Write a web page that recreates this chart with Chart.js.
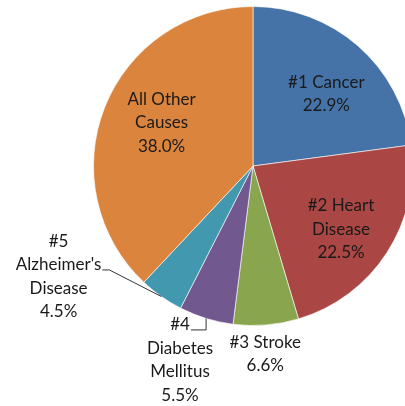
<!DOCTYPE html>
<html>
<head>
<meta charset="utf-8">
<script src="https://cdn.jsdelivr.net/npm/chart.js@4"></script>
<style>
    html, body { margin: 0; padding: 0; background: #fff; overflow: hidden; }
    #wrap { position: absolute; left: 0; top: 0; width: 506px; height: 406px; }
</style>
</head>
<body>
<div id="wrap"><canvas id="pieChart"></canvas></div>
<script>
// Leading causes of death, share of all deaths
const causeLabels = [
    ['#1 Cancer'],
    ['#2 Heart', 'Disease'],
    ['#3 Stroke'],
    ['#4', 'Diabetes', 'Mellitus'],
    ['#5', "Alzheimer's", 'Disease'],
    ['All Other', 'Causes']
];
const causeShares = [22.9, 22.5, 6.6, 5.5, 4.5, 38.0];
const sliceColors = ['#4572A7', '#AA4643', '#89A54E', '#71588F', '#4198AF', '#DB843D'];

// label placement: radius fraction along the slice middle, then a small nudge
const labelPlace = [
    { k: 0.65, dx: 5, dy: 6 },
    { k: 0.65, dx: 1, dy: 7 },
    { k: 1.17, dx: -3, dy: 2 },
    { k: 1.30, dx: -12, dy: -4 },
    { k: 1.40, dx: -66, dy: -72 },
    { k: 0.65, dx: 5, dy: -5 }
];
// leader lines for the outside labels: which text line, horizontal run (0 = run to the slice edge x)
const leaders = { 3: { line: 0, run: 0 }, 4: { line: 1, run: 7 } };

const FONT = '17px Lato, "Open Sans", sans-serif';
const LINE_H = 23.5;

const sliceLabels = {
    id: 'sliceLabels',
    afterDatasetsDraw(chart) {
        const ctx = chart.ctx;
        const arcs = chart.getDatasetMeta(0).data;
        ctx.save();
        ctx.font = FONT;
        ctx.fillStyle = '#1a1a1a';
        ctx.textAlign = 'center';
        ctx.textBaseline = 'middle';
        arcs.forEach((arc, i) => {
            const mid = (arc.startAngle + arc.endAngle) / 2;
            const p = labelPlace[i];
            const cx = arc.x + Math.cos(mid) * arc.outerRadius * p.k + p.dx;
            const cy = arc.y + Math.sin(mid) * arc.outerRadius * p.k + p.dy;
            const lines = causeLabels[i].concat([causeShares[i].toFixed(1) + '%']);
            const top = cy - (lines.length - 1) * LINE_H / 2;
            lines.forEach((t, j) => ctx.fillText(t, cx, top + j * LINE_H));

            const ld = leaders[i];
            if (ld) {
                const txt = lines[ld.line];
                const x0 = cx + ctx.measureText(txt).width / 2 + 1;
                const y0 = top + ld.line * LINE_H + 5;
                const ex = arc.x + Math.cos(mid) * arc.outerRadius;
                const ey = arc.y + Math.sin(mid) * arc.outerRadius;
                ctx.beginPath();
                ctx.strokeStyle = '#333';
                ctx.lineWidth = 1;
                ctx.moveTo(x0, y0);
                ctx.lineTo(ld.run ? x0 + ld.run : ex, y0);
                ctx.lineTo(ex, ey);
                ctx.stroke();
            }
        });
        ctx.restore();
    }
};

new Chart(document.getElementById('pieChart'), {
    type: 'pie',
    data: {
        labels: causeLabels.map(l => l.join(' ')),
        datasets: [{
            data: causeShares,
            backgroundColor: sliceColors,
            borderColor: 'rgba(255,255,255,0.6)',
            borderWidth: 1
        }]
    },
    options: {
        responsive: true,
        maintainAspectRatio: false,
        animation: false,
        layout: { padding: { top: 6, bottom: 80, left: 0, right: 0 } },
        plugins: {
            legend: { display: false },
            tooltip: { enabled: false }
        }
    },
    plugins: [sliceLabels]
});
</script>
</body>
</html>
